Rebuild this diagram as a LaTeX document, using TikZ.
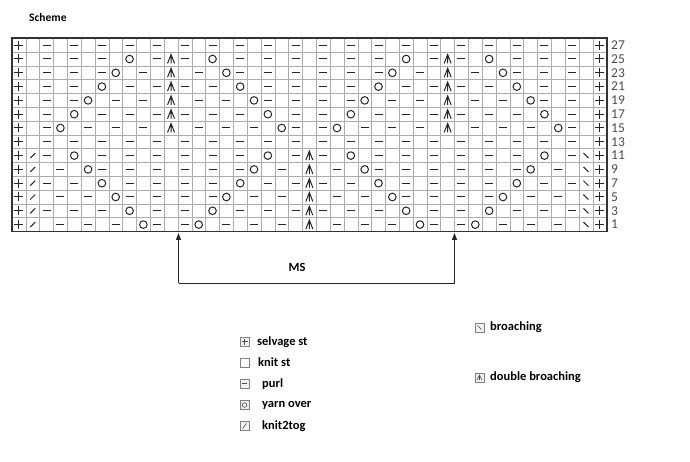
\documentclass[tikz,border=0pt]{standalone}
\usepackage{fontspec}
\setmainfont{Carlito}
\usetikzlibrary{arrows.meta}
\tikzset{
  gridline/.style={gray!65,line width=.5pt},
  sym/.style={line width=1pt,black!85},
  legtext/.style={anchor=west,inner sep=0pt,font=\fontsize{12.5}{14}\selectfont\bfseries},
  legbox/.style={draw=gray,fill=gray!12,line width=.6pt},
}
% cell centre: column c (0 = left), row r (0 = top)
\newcommand\cpos[2]{({12+13.83*(#1+.5)},{38.3+13.8*(#2+.5)})}
\newcommand\purl[2]{\draw[sym] \cpos{#1}{#2} ++(-4,0) -- ++(8,0);}
\newcommand\yo[2]{\draw[sym] \cpos{#1}{#2} circle (3.8);}
\newcommand\dd[2]{\draw[sym] \cpos{#1}{#2} ++(-3.5,4.5) -- ++(3.5,-9) -- ++(3.5,9) ++(-3.5,-9) -- ++(0,9);}
\newcommand\mpurl[2]{\purl{#1}{#2}\purl{42-#1}{#2}}
\newcommand\myo[2]{\yo{#1}{#2}\yo{42-#1}{#2}}
\newcommand\mdd[2]{\dd{#1}{#2}\dd{42-#1}{#2}}
\begin{document}
\begin{tikzpicture}[x=1pt,y=-1pt]
  \useasboundingbox (0,0) rectangle (690,462);
  \node[anchor=west,inner sep=0pt,font=\fontsize{11.5}{13}\selectfont\bfseries] (title) at (29,18) {Scheme};

  % grid
  \foreach \i in {0,...,43} {\draw[gridline] ({12+13.83*\i},38.3) -- ({12+13.83*\i},231.5);}
  \foreach \j in {0,...,14} {\draw[gridline] (12,{38.3+13.8*\j}) -- (606.7,{38.3+13.8*\j});}
  \draw[line width=1.6pt,black!80] (12,38.3) rectangle (606.7,231.5);

  % selvage stitches and row numbers
  \foreach \r [evaluate=\r as \n using int(27-2*\r)] in {0,...,13}{
    \foreach \c in {0,42}
      {\draw[sym] \cpos{\c}{\r} ++(-4.5,0) -- ++(9,0) \cpos{\c}{\r} ++(0,-4.5) -- ++(0,9);}
    \node[anchor=west,inner sep=0pt,text=black!70,font=\fontsize{13.5}{14}\selectfont] (row\n) at ({611},{38.3+13.8*(\r+.5)}) {\n};
  }

  % purls
  \foreach \r in {0,7} {\foreach \c in {2,4,...,20} {\mpurl{\c}{\r}}}
  \foreach \c in {2,4,6,10,12,16,18,20} {\mpurl{\c}{1}\mpurl{\c}{12}}
  \foreach \c in {2,4,6,9,13,16,18,20} {\mpurl{\c}{2}}
  \foreach \c in {2,4,8,10,12,14,18,20} {\mpurl{\c}{3}\mpurl{\c}{10}}
  \foreach \c in {2,4,7,9,13,15,18,20} {\mpurl{\c}{4}}
  \foreach \c in {2,6,8,10,12,14,16,20} {\mpurl{\c}{5}\mpurl{\c}{8}}
  \foreach \c in {2,5,7,9,13,15,17,20} {\mpurl{\c}{6}}
  \foreach \c in {3,6,8,10,12,14,16,19} {\mpurl{\c}{9}}
  \foreach \c in {3,5,8,10,12,14,17,19} {\mpurl{\c}{11}}
  \foreach \c in {3,5,7,10,12,15,17,19} {\mpurl{\c}{13}}

  % yarn overs
  \foreach \r/\a/\b in {1/8/14,2/7/15,3/6/16,4/5/17,5/4/18,6/3/19,
                        8/4/18,9/5/17,10/6/16,11/7/15,12/8/14,13/9/13}
    {\myo{\a}{\r}\myo{\b}{\r}}

  % double broaching
  \foreach \r in {1,...,6} {\mdd{11}{\r}}
  \foreach \r in {8,...,13} {\dd{21}{\r}}

  % knit2tog and broaching
  \foreach \r in {8,...,13}{
    \draw[sym] \cpos{1}{\r} ++(-2.5,2.5) -- ++(5,-5);
    \draw[sym] \cpos{41}{\r} ++(-2.5,-2.5) -- ++(5,5);
  }

  % repeat
  \coordinate (msl) at (178.5,233);
  \coordinate (msr) at (454.5,233);
  \draw[line width=1pt,black!85,-{Triangle[length=7pt,width=5pt]}] (178.5,283) -- (msl);
  \draw[line width=1pt,black!85,-{Triangle[length=7pt,width=5pt]}] (454.5,283) -- (msr);
  \draw[line width=1pt,black!85] (178.5,283) -- (454.5,283);
  \node[font=\fontsize{12.5}{14}\selectfont\bfseries] (ms) at (297,267) {MS};

  % legend
  \draw[legbox] (240,337) rectangle (249,346);
  \draw[line width=.6pt,black!70] (241.5,341.5) -- (247.5,341.5) (244.5,338.5) -- (244.5,344.5);
  \node[legtext] (lselv) at (257,342) {selvage st};
  \draw[legbox,fill=white] (240,358) rectangle (249,367);
  \node[legtext] (lknit) at (258,362.5) {knit st};
  \draw[legbox] (240,379) rectangle (249,388);
  \draw[line width=.6pt,black!70] (242,383.5) -- (247,383.5);
  \node[legtext] (lpurl) at (262,384) {purl};
  \draw[legbox] (240,400.5) rectangle (249,409.5);
  \draw[line width=.6pt,black!70] (244.5,405) circle (2.3);
  \node[legtext] (lyo) at (262,405.5) {yarn over};
  \draw[legbox] (240,421.5) rectangle (249,430.5);
  \draw[line width=.6pt,black!70] (242.5,428.5) -- (246.5,423.5);
  \node[legtext] (ltog) at (262,426.5) {knit2tog};
  \draw[legbox] (475,323) rectangle (484,332);
  \draw[line width=.6pt,black!70] (477.5,325.5) -- (481.5,329.5);
  \node[legtext] (lbr) at (490,327) {broaching};
  \draw[legbox] (475,373) rectangle (484,382);
  \draw[line width=.6pt,black!70] (477,380) -- (479.5,375) -- (482,380) (479.5,375) -- (479.5,380);
  \node[legtext] (ldbr) at (490,377.5) {double broaching};
\end{tikzpicture}
\end{document}
